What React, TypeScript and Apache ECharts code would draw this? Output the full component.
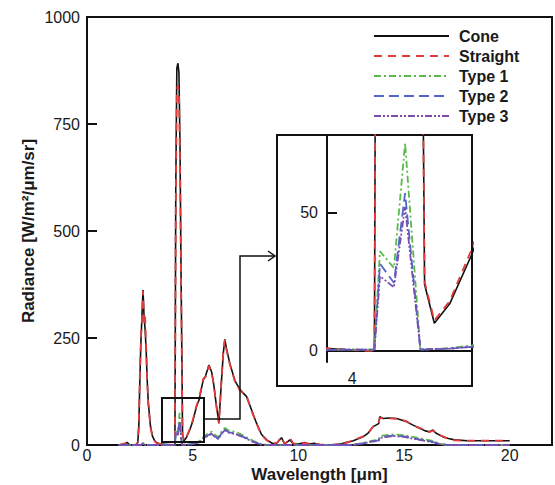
import React, { useEffect, useRef } from "react";
import * as echarts from "echarts";

// Wavelength grid for Cone / Straight (μm)
const wavelengthA = [
  1.5, 1.8, 1.9, 2.0, 2.3, 2.4, 2.45, 2.5, 2.55, 2.6,
  2.65, 2.7, 2.75, 2.8, 2.85, 2.9, 3.0, 3.1, 3.2, 3.3,
  3.5, 3.8, 4.1, 4.16, 4.2, 4.25, 4.3, 4.35, 4.4, 4.45,
  4.5, 4.52, 4.59, 4.7, 4.86, 5.0, 5.18, 5.3, 5.5, 5.6,
  5.77, 5.9, 6.0, 6.1, 6.24, 6.35, 6.45, 6.52, 6.6, 6.76,
  7.0, 7.23, 7.55, 7.8, 8.02, 8.25, 8.5, 8.8, 9.0, 9.2,
  9.35, 9.5, 9.6, 9.75, 10.0, 10.3, 10.5, 10.75, 11.0, 11.5,
  12.0, 12.2, 12.6, 13.06, 13.3, 13.54, 13.8, 13.85, 14.0, 14.3,
  14.65, 15.1, 15.4, 15.74, 16.0, 16.2, 16.37, 16.5, 16.85, 17.1,
  17.4, 18.0, 19.0, 20.0,
];

const cone = [
  0, 3, 6, 1, 0, 5, 40, 150, 240, 300,
  362, 300, 270, 220, 150, 100, 45, 20, 10, 5,
  2, 1, 0, 0, 600, 880, 892, 870, 700, 400,
  150, 24, 10, 17, 35, 55, 90, 105, 152, 160,
  187, 170, 140, 100, 52, 140, 215, 247, 225, 190,
  150, 130, 113, 80, 51, 25, 12, 3, 5, 17,
  3, 8, 12, 3, 2, 6, 2, 4, 1, 0,
  2, 5, 10, 19, 28, 43, 50, 66, 62, 63,
  62, 55, 47, 39, 33, 31, 35, 28, 19, 15,
  12, 10, 10, 10,
];

const straight = [
  0, 4, 3, 0, 0, 6, 50, 160, 250, 290,
  360, 285, 300, 230, 145, 95, 42, 18, 9, 4,
  2, 1, 0, 0, 560, 830, 840, 825, 660, 380,
  140, 25, 11, 18, 37, 57, 92, 108, 155, 158,
  185, 168, 142, 98, 50, 142, 218, 245, 222, 188,
  148, 128, 115, 78, 50, 24, 11, 2, 6, 19,
  2, 9, 17, 4, 2, 5, 3, 3, 1, 0,
  2, 4, 11, 20, 27, 44, 52, 63, 63, 62,
  61, 56, 46, 40, 34, 30, 34, 27, 20, 14,
  11, 10, 10, 10,
];

// Wavelength grid for Type 1-3 (μm)
const wavelengthB = [
  1.5, 2.55, 2.65, 2.75, 4.1, 4.16, 4.2, 4.3, 4.38, 4.49,
  4.7, 4.86, 5.0, 5.3, 5.66, 5.9, 6.05, 6.21, 6.35, 6.52,
  6.7, 7.07, 7.4, 7.86, 8.26, 8.6, 12.5, 13.0, 13.5, 13.8,
  13.85, 14.0, 14.5, 15.0, 15.6, 16.1, 16.3, 16.7, 17.0, 17.5,
  20.0,
];

const type1 = [
  0, 0, 5, 0, 0.5, 0.5, 36, 30, 75, 0.5,
  1, 2, 3, 9, 25, 31, 24, 18, 30, 40,
  34, 30, 22, 10, 1, 0, 0, 4, 10, 13,
  20, 22, 25, 23, 17, 12, 10, 3, 0.5, 0,
  0,
];

const type2 = [
  0, 0, 4, 0, 0.5, 0.5, 31.5, 24.6, 57, 0.5,
  0.8, 1.5, 2, 7, 21, 27, 20, 15, 26, 36,
  30, 26, 19, 8, 1, 0, 0, 3, 9, 11,
  17, 19, 22, 20, 14, 10, 8, 2, 0.5, 0,
  0,
];

const type3 = [
  0, 0, 3, 0, 0.5, 0.5, 27, 23, 52, 0.5,
  0.8, 1.5, 2, 6, 20, 26, 19, 14, 25, 35,
  29, 25, 18, 7, 1, 0, 0, 3, 8, 10,
  16, 18, 21, 19, 13, 9, 7, 2, 0.5, 0,
  0,
];

const xTicks = [0, 5, 10, 15, 20];
const insetYTicks = [0, 50];
const insetXTicks = [4];

const FONT = "'Liberation Sans', Arial, Helvetica, sans-serif";
const TXT = "#1a1a1a";

const seriesDefs = [
  { name: "Cone", xs: wavelengthA, ys: cone, color: "#111111", dash: "solid" as any, width: 1.6 },
  { name: "Straight", xs: wavelengthA, ys: straight, color: "#e23b3b", dash: [8, 6], width: 1.8 },
  { name: "Type 1", xs: wavelengthB, ys: type1, color: "#58b947", dash: [7, 3, 2, 3], width: 1.8 },
  { name: "Type 2", xs: wavelengthB, ys: type2, color: "#5366c9", dash: [10, 5], width: 1.8 },
  { name: "Type 3", xs: wavelengthB, ys: type3, color: "#7b4db0", dash: [7, 2, 2, 2, 2, 2], width: 1.8 },
];

export default function App() {
  const ref = useRef<HTMLDivElement>(null);

  useEffect(() => {
    if (!ref.current) return;
    const chart = echarts.init(ref.current, undefined, { renderer: "svg" });

    const makeSeries = (axisIndex: number, z: number) =>
      seriesDefs.map((d) => ({
        name: d.name,
        type: "line",
        xAxisIndex: axisIndex,
        yAxisIndex: axisIndex,
        data: d.xs.map((x, i) => [x, d.ys[i]]),
        showSymbol: false,
        symbol: "none",
        clip: true,
        silent: true,
        z,
        lineStyle: { color: d.color, width: d.width, type: d.dash },
        itemStyle: { color: d.color },
      }));

    const axisLine = { show: true, lineStyle: { color: "#111", width: 2 } };
    const plain = (v: number) => String(v);

    chart.setOption({
      animation: false,
      backgroundColor: "#fff",
      textStyle: { fontFamily: FONT },
      grid: [
        {
          left: 87, top: 17, width: 465, height: 428, outerBoundsMode: "none",
          show: true, borderColor: "#111", borderWidth: 2, backgroundColor: "transparent",
        },
        { left: 327, top: 135, width: 145, height: 227, show: false, outerBoundsMode: "none" },
      ],
      legend: {
        data: seriesDefs.map((d) => d.name),
        orient: "vertical",
        left: 368,
        top: 23,
        itemWidth: 75,
        itemHeight: 14,
        itemGap: 4,
        selectedMode: false,
        itemStyle: { opacity: 0 },
        textStyle: { fontFamily: FONT, fontWeight: "bold", fontSize: 16, color: TXT, padding: [0, 0, 0, 5] },
      },
      xAxis: [
        {
          type: "value", gridIndex: 0, min: 0, max: 22,
          axisLine, splitLine: { show: false },
          axisTick: { show: false },
          axisLabel: { customValues: xTicks, formatter: plain, fontSize: 16, color: TXT, margin: 2, fontFamily: FONT },
          name: "Wavelength [μm]", nameLocation: "middle", nameGap: 21, nameMoveOverlap: false,
          nameTextStyle: { fontSize: 17, fontWeight: "bold", color: TXT, fontFamily: FONT },
        },
        {
          type: "value", gridIndex: 1, min: 3.82, max: 4.86, z: 10,
          axisLine, splitLine: { show: false },
          axisTick: { show: false },
          axisLabel: { customValues: insetXTicks, formatter: plain, fontSize: 16, color: TXT, margin: 8, fontFamily: FONT },
        },
      ],
      yAxis: [
        {
          type: "value", gridIndex: 0, min: 0, max: 1000, interval: 250,
          axisLine, splitLine: { show: false },
          axisTick: { show: true, inside: true, length: 10, lineStyle: { color: "#111", width: 2 } },
          axisLabel: { formatter: plain, fontSize: 16, color: TXT, margin: 7, fontFamily: FONT },
          name: "Radiance [W/m²/μm/sr]", nameLocation: "middle", nameGap: 50, nameRotate: 90, nameMoveOverlap: false,
          nameTextStyle: { fontSize: 17, fontWeight: "bold", color: TXT, fontFamily: FONT },
        },
        {
          type: "value", gridIndex: 1, min: -4, max: 78, z: 10,
          axisLine, splitLine: { show: false },
          axisTick: { show: true, inside: true, length: 10, customValues: insetYTicks, lineStyle: { color: "#111", width: 2 } },
          axisLabel: { customValues: insetYTicks, formatter: plain, fontSize: 16, color: TXT, margin: 9, fontFamily: FONT },
        },
      ],
      graphic: [
        {
          type: "rect", z: 5,
          shape: { x: 277, y: 135, width: 195, height: 251 },
          style: { fill: "#fff", stroke: "#111", lineWidth: 2 },
        },
        {
          type: "rect", z: 5,
          shape: { x: 162, y: 398, width: 42, height: 44 },
          style: { fill: "none", stroke: "#111", lineWidth: 2 },
        },
        {
          type: "polyline", z: 5,
          shape: { points: [[204, 419], [240, 419], [240, 256], [275, 256]] },
          style: { fill: "none", stroke: "#111", lineWidth: 1.5 },
        },
        {
          type: "polyline", z: 5,
          shape: { points: [[268, 251], [275, 256], [268, 261]] },
          style: { fill: "none", stroke: "#111", lineWidth: 1.5 },
        },
      ],
      series: [...makeSeries(0, 2), ...makeSeries(1, 10)],
    });

    return () => chart.dispose();
  }, []);

  return <div ref={ref} style={{ width: 555, height: 485, position: "absolute", left: 0, top: 0 }} />;
}
